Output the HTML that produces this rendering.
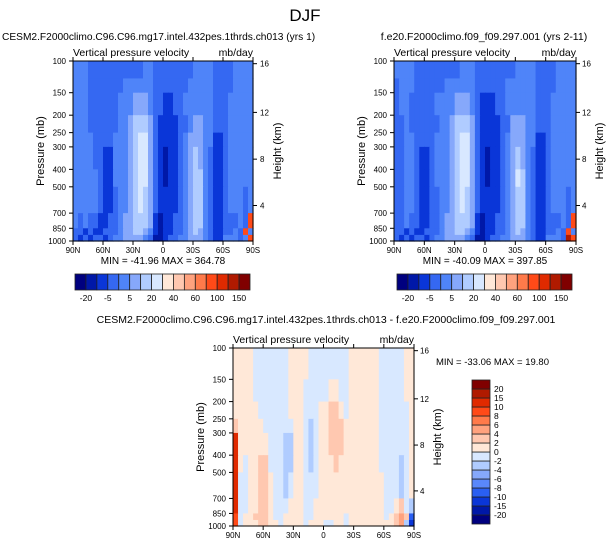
<!DOCTYPE html>
<html><head><meta charset="utf-8">
<style>
html,body{margin:0;padding:0;background:#fff}
svg{display:block;font-family:"Liberation Sans",sans-serif}
</style></head>
<body>
<svg id="fig" width="611" height="547" viewBox="0 0 611 547" xmlns="http://www.w3.org/2000/svg">
<text x="305" y="21" font-size="17" text-anchor="middle">DJF</text>
</svg>
<script>
// ---- data ----
const latLabels = ["90N","60N","30N","0","30S","60S","90S"];
const pressureTicks = [100,150,200,250,300,400,500,700,850,1000];
const heightTicks = [16,12,8,4];
const heightTickPressures = [103.5,193,351,635];
const rowEdges = [100,125,150,200,250,300,400,500,700,850,925,1000];
const modelBounds = [-25,-15,-10,-5,0,5,10,20,25,30,35,40,50,60,80];
const modelBarLabels = ["-20","-5","5","20","40","60","100","150"];
const diffBounds = [-20,-15,-10,-8,-6,-4,-2,0,2,4,6,8,10,15,20];
const diffBarLabels = ["-20","-15","-10","-8","-6","-4","-2","0","2","4","6","8","10","15","20"];
const modelColors = ["#00007f","#0018a8","#0a36d8","#3568f2","#4f84f9","#86a8fb","#b0ccff","#d8e8ff","#ffe8d8","#ffc8b0","#ffa27e","#ff7a4a","#ff4a18","#e02a00","#b01a00","#800000"];
const modelOmega = [
[-3,-3,-3,-7,-7,-7,-7,-7,-7,-7,-7,-7,-7,-7,-3,-3,-7,-7,-7,-7,-7,-7,-7,-7,-3,-3,-3,-3,-7,-7,-7,-7,-3,-3,-3,-3],
[-3,-3,-3,-7,-7,-7,-7,-7,-7,-7,-3,-3,-3,-3,-3,-3,-7,-7,-7,-7,-7,-7,-7,-3,-3,-3,-3,-3,-7,-7,-7,-7,-3,-3,-3,-3],
[-3,-3,-3,-7,-7,-7,-7,-7,-7,-3,-3,-3,3,3,3,-3,-7,-7,-12,-12,-7,-7,-3,-3,-3,-3,-3,-3,-7,-7,-7,-3,-3,-3,-3,-3],
[-3,-3,-3,-7,-7,-7,-7,-7,-7,-3,-3,3,8,8,8,3,-7,-12,-12,-12,-12,-7,-7,-3,3,3,-3,-3,-7,-7,-7,-3,-3,-3,-3,-3],
[-3,-3,-3,-3,-7,-7,-7,-7,-3,-3,-3,3,8,15,15,3,-7,-12,-12,-12,-12,-7,-3,3,3,3,-3,-3,-12,-12,-7,-3,-3,-3,-3,-3],
[-3,-3,-3,-3,-7,-7,-12,-12,-3,-3,-3,3,8,15,15,3,-7,-12,-20,-12,-12,-7,-3,3,8,3,-3,-7,-12,-12,-7,-3,-3,-3,-3,-3],
[-3,-3,-3,-3,-3,-7,-12,-12,-3,-3,-3,3,8,15,15,3,-7,-12,-20,-12,-12,-7,-3,3,8,8,-3,-7,-12,-12,-7,-3,-3,-3,-3,-3],
[-3,-3,-3,-3,-3,-7,-12,-12,-7,-3,-3,3,8,15,8,3,-7,-12,-12,-12,-12,-7,-3,3,8,8,-3,-7,-12,-12,-7,-3,-3,-3,-7,-3],
[-3,-7,-3,-7,-7,-12,-12,-7,-7,-3,3,3,8,8,8,3,-12,-20,-12,-12,-7,-7,-3,3,8,8,-3,-7,-12,-12,-7,-7,-7,-3,-7,40],
[-7,-7,-12,-7,-12,-12,-7,-7,-7,-3,3,3,8,8,3,-3,-12,-20,-12,-12,-7,-7,-3,3,8,3,-3,-7,-12,-12,-7,-7,-3,-7,40,-3],
[-7,-12,-7,-12,-7,-7,-12,-7,-3,-3,3,3,3,3,-3,-7,-20,-20,-12,-7,-7,-3,-3,3,3,3,-3,-7,-12,-12,-3,-3,-3,-7,-3,40]
];
const obsOmega = [
[-3,-3,-3,-3,-7,-7,-7,-7,-7,-7,-7,-7,-7,-3,-3,-3,-7,-7,-7,-7,-7,-7,-7,-7,-3,-3,-3,-3,-7,-7,-7,-7,-3,-3,-3,-3],
[-7,-3,-3,-3,-7,-7,-7,-7,-7,-7,-3,-3,-3,-3,-3,-3,-7,-7,-7,-7,-7,-7,-3,-3,-3,-3,-3,-3,-7,-7,-7,-7,-3,-3,-3,-3],
[-7,-3,-3,-7,-7,-7,-7,-7,-3,-3,-3,-3,3,3,3,-3,-7,-12,-12,-12,-7,-7,-3,-3,-3,-3,-3,-3,-7,-7,-7,-3,-3,-3,-3,-3],
[-7,-7,-3,-7,-7,-7,-7,-7,-7,-3,-3,3,8,8,8,3,-7,-12,-12,-12,-12,-7,-7,3,3,3,-3,-3,-7,-7,-7,-3,-3,-3,-3,-3],
[-7,-7,-3,-3,-7,-7,-7,-7,-3,-3,-3,3,8,15,15,3,-7,-12,-12,-12,-12,-7,-3,3,3,3,-3,-3,-12,-12,-7,-3,-3,-3,-3,-3],
[-7,-7,-3,-3,-7,-12,-12,-7,-3,-3,-3,3,8,15,15,3,-7,-12,-20,-12,-12,-7,-3,3,8,3,-3,-7,-12,-12,-7,-3,-3,-3,-3,-3],
[-7,-7,-3,-3,-7,-12,-12,-7,-3,-3,-3,3,8,15,15,3,-7,-12,-20,-12,-12,-7,-3,3,15,8,-3,-7,-12,-12,-7,-3,-3,-3,-3,-3],
[-7,-7,-3,-3,-7,-12,-12,-7,-7,-3,-3,3,8,15,8,3,-7,-12,-12,-12,-12,-7,-3,3,8,8,-3,-7,-12,-12,-7,-3,-3,-3,-7,-3],
[-7,-7,-3,-7,-7,-12,-12,-7,-7,-3,3,3,8,8,8,3,-12,-20,-12,-12,-7,-7,-3,3,8,8,-3,-7,-12,-12,-7,-7,-7,-3,-7,40],
[-7,-7,-12,-7,-12,-12,-7,-7,-7,-3,3,3,8,8,3,-3,-12,-20,-12,-12,-7,-7,-3,3,8,3,-3,-7,-12,-12,-7,-7,-3,-7,40,-3],
[-7,-12,-7,-12,-7,-7,-12,-7,-3,-3,3,3,3,3,-3,-7,-20,-20,-12,-7,-7,-3,-3,3,3,3,-3,-7,-12,-12,-3,-3,-3,-7,60,40]
];
const diffOmega = [
[1,1,1,1,-1,-1,-1,-1,-1,-1,-1,1,1,1,1,-1,-1,-1,-1,-1,-1,-1,-1,1,1,1,1,1,1,-1,-1,-1,-1,-1,1,1],
[1,1,1,1,-1,-1,-1,-1,-1,-1,-1,1,1,1,1,-1,-1,-1,-1,-1,-1,-1,-1,1,1,1,1,1,1,-1,-1,-1,-1,-1,1,1],
[1,1,1,1,-1,-1,-1,-1,-1,-1,-1,1,1,1,-1,-1,-1,-1,-1,1,1,-1,-1,1,1,1,1,1,1,-1,-1,-1,-1,-1,1,1],
[1,1,1,1,1,-1,-1,-1,-1,-1,-1,1,1,1,-1,-1,-1,1,1,3,3,1,-1,1,1,1,1,1,1,-1,-1,-1,-1,-1,-1,1],
[3,1,1,1,1,1,-1,-1,-1,-1,-1,-1,1,1,-1,-3,-1,1,1,3,3,3,1,1,1,1,1,1,1,-1,-1,-1,-1,-1,-1,1],
[10,1,1,1,1,1,1,-1,-1,-1,-3,-3,1,1,-1,-3,-1,1,1,3,3,3,1,1,1,1,1,1,1,-1,-1,-1,-1,-1,-1,1],
[10,1,-1,1,1,3,3,-1,-1,-1,-3,-3,1,1,-1,-3,-1,1,1,1,3,1,1,1,1,1,1,1,1,-1,-1,-1,-1,-3,-1,1],
[10,-1,-1,1,1,3,3,1,-1,-1,-3,-1,1,1,-1,-1,-1,1,1,1,1,1,1,1,1,1,1,1,1,1,-1,-1,-1,-3,-1,1],
[10,-1,-1,1,1,3,3,1,-1,-1,-1,1,1,1,-1,-1,1,1,1,1,1,1,1,1,1,1,1,1,1,1,-1,-1,1,3,-1,-3],
[8,-1,1,1,3,3,3,1,-1,-1,1,1,1,1,-1,-1,1,1,1,1,1,1,-1,1,1,1,1,1,1,1,-1,1,3,5,3,-10],
[8,-1,1,1,1,3,3,1,1,-1,1,1,1,1,-1,1,1,1,-1,-1,1,1,-1,1,1,1,1,1,1,1,1,1,3,5,-3,-15]
];
const diffColors = ["#00007f","#0018a8","#0a36d8","#2a5ff2","#5a88fb","#86a8fb","#b0ccff","#d8e8ff","#ffe8d8","#ffc8b0","#ffa27e","#ff7a4a","#ff4a18","#e02a00","#b01a00","#800000"];

// ---- drawing ----
const NS="http://www.w3.org/2000/svg";
const svg=document.getElementById('fig');
function mk(tag,attrs,parent,text){const e=document.createElementNS(NS,tag);for(const k in attrs)e.setAttribute(k,attrs[k]);if(text!==undefined)e.textContent=text;(parent||svg).appendChild(e);return e;}
function colorIdx(v,bounds){let i=0;for(const b of bounds)if(v>=b)i++;return i;}

function panel(name,x0,y0,w,h,data,bounds,colors,yLabX,hLabX){
  const g=mk('g',{});
  
  
  const yS=p=>y0+h*Math.log10(p/100);
  const xS=i=>x0+w*i/36;
  const cw=w/36;
  for(let r=0;r<data.length;r++){
    const ya=yS(rowEdges[r]),yb=yS(rowEdges[r+1]);
    for(let c=0;c<data[r].length;c++){
      const rc=mk('rect',{x:xS(c).toFixed(2),y:ya.toFixed(2),width:(cw+0.6).toFixed(2),height:(yb-ya+0.6).toFixed(2),fill:colors[colorIdx(data[r][c],bounds)]},g);
      
      
    }
  }
  mk('rect',{x:x0,y:y0,width:w,height:h,fill:'none',stroke:'#000','stroke-width':1},g);
  pressureTicks.forEach(p=>{const y=yS(p);
    mk('line',{x1:x0-4,x2:x0,y1:y,y2:y,stroke:'#000'},g);
    const t=mk('text',{x:yLabX,y:y+3,'font-size':8,'text-anchor':'end'},g,String(p));
    
    });
  heightTicks.forEach((hk,i)=>{const y=yS(heightTickPressures[i]);
    mk('line',{x1:x0+w,x2:x0+w+4,y1:y,y2:y,stroke:'#000'},g);
    const t=mk('text',{x:hLabX,y:y+3,'font-size':8},g,String(hk));
    
    });
  latLabels.forEach((l,i)=>{const x=x0+w*i/6;
    mk('line',{x1:x,x2:x,y1:y0+h,y2:y0+h+4,stroke:'#000'},g);
    mk('line',{x1:x,x2:x,y1:y0,y2:y0-4,stroke:'#000'},g);
    const t=mk('text',{x:x,y:y0+h+12,'font-size':8,'text-anchor':'middle'},g,l);
    
    });
  const a=mk('text',{x:x0,y:y0-5,'font-size':10.5},g,'Vertical pressure velocity');
  
  
  const u=mk('text',{x:x0+w,y:y0-5,'font-size':10.5,'text-anchor':'end'},g,'mb/day');
  
  
  const py=y0+h/2;
  const pt=mk('text',{x:yLabX-22,y:py,'font-size':11,'text-anchor':'middle',transform:`rotate(-90 ${yLabX-22} ${py})`},g,'Pressure (mb)');
  
  
  const hx=hLabX+21;
  const ht=mk('text',{x:hx,y:py,'font-size':11,'text-anchor':'middle',transform:`rotate(-90 ${hx} ${py})`},g,'Height (km)');
  
  
}

function hbar(name,x0,y0,w,h,colors,labels){
  const g=mk('g',{});
  
  
  const bw=w/colors.length;
  colors.forEach((c,i)=>mk('rect',{x:x0+i*bw,y:y0,width:bw,height:h,fill:c,stroke:'#222','stroke-width':0.8},g));
  labels.forEach((l,i)=>{const t=mk('text',{x:x0+(2*i+1)*bw,y:y0+h+11,'font-size':8.5,'text-anchor':'middle'},g,l);
    
    });
}
function vbar(name,x0,y0,w,h,colors,labels){
  const g=mk('g',{});
  
  
  const bh=h/colors.length;
  colors.forEach((c,i)=>mk('rect',{x:x0,y:y0+h-(i+1)*bh,width:w,height:bh,fill:c,stroke:'#222','stroke-width':0.8},g));
  labels.forEach((l,i)=>{const t=mk('text',{x:x0+w+4,y:y0+h-(i+1)*bh+3,'font-size':8.5},g,l);
    
    });
}
function txt(name,x,y,s,fs,anchor){const t=mk('text',{x:x,y:y,'font-size':fs,'text-anchor':anchor||'start'},svg,s);
  
  }

txt('model-panel-title',2,40,'CESM2.F2000climo.C96.C96.mg17.intel.432pes.1thrds.ch013 (yrs 1)',10.2);
txt('obs-panel-title',484,40,'f.e20.F2000climo.f09_f09.297.001 (yrs 2-11)',10.5,'middle');
panel('model-panel',73,61,180,180,modelOmega,modelBounds,modelColors,66,260);
panel('obs-panel',394,61,182,180,obsOmega,modelBounds,modelColors,387,582);
txt('model-min-max',163,264,'MIN = -41.96  MAX = 364.78',10,'middle');
txt('obs-min-max',485,264,'MIN = -40.09  MAX = 397.85',10,'middle');
hbar('model-colorbar',75,274,175,16,modelColors,modelBarLabels);
hbar('obs-colorbar',397,274,175,16,modelColors,modelBarLabels);
txt('diff-panel-title',326,323,'CESM2.F2000climo.C96.C96.mg17.intel.432pes.1thrds.ch013 - f.e20.F2000climo.f09_f09.297.001',10.5,'middle');
panel('diff-panel',233,348,181,178,diffOmega,diffBounds,diffColors,226,420);
txt('diff-min-max',436,365,'MIN = -33.06  MAX =  19.80',9.5);
vbar('diff-colorbar',472,380,18,144,diffColors,diffBarLabels);
</script>
</body></html>
